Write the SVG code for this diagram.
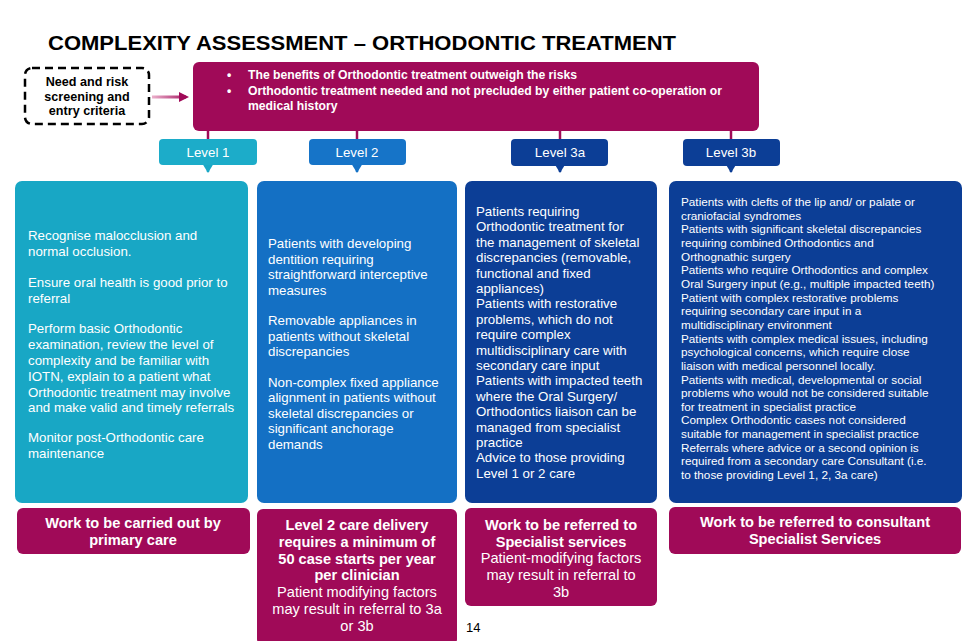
<svg xmlns="http://www.w3.org/2000/svg" width="965" height="641" viewBox="0 0 965 641">
<defs>
<style>
text{font-family:"Liberation Sans",Arial,sans-serif;}
.t{font-size:21px;font-weight:bold;fill:#000;}
.w{fill:#fff;}
.b{font-weight:bold;}
.c{text-anchor:middle;}
.f13{font-size:13.3px;}
.f14{font-size:14.6px;}
.f12{font-size:12.2px;}
.f11{font-size:11.75px;}
.mag{fill:#A00A58;}
</style>
<linearGradient id="ag" gradientUnits="userSpaceOnUse" x1="152" y1="0" x2="190" y2="0">
<stop offset="0" stop-color="#EBB0CB"/>
<stop offset="1" stop-color="#A00A58"/>
</linearGradient>
<marker id="mh" markerWidth="10" markerHeight="10" refX="7" refY="5" orient="auto" markerUnits="userSpaceOnUse">
<path d="M0,0 L10,5 L0,10 z" fill="#A00A58"/>
</marker>
<marker id="a1" markerWidth="12" markerHeight="10" refX="6" refY="9" orient="0" markerUnits="userSpaceOnUse">
<path d="M0,0 L12,0 L6,10 z" fill="#1AA8C6"/>
</marker>
<marker id="a2" markerWidth="12" markerHeight="10" refX="6" refY="9" orient="0" markerUnits="userSpaceOnUse">
<path d="M0,0 L12,0 L6,10 z" fill="#1572C6"/>
</marker>
<marker id="a3" markerWidth="12" markerHeight="10" refX="6" refY="9" orient="0" markerUnits="userSpaceOnUse">
<path d="M0,0 L12,0 L6,10 z" fill="#0C3E96"/>
</marker>
</defs>
<rect width="965" height="641" fill="#fff"/>
<text class="t" x="48" y="50" textLength="628" lengthAdjust="spacingAndGlyphs">COMPLEXITY ASSESSMENT – ORTHODONTIC TREATMENT</text>

<g id="entry">
<rect x="25" y="68" width="124" height="56" rx="7" fill="#fff" stroke="#000" stroke-width="2.5" stroke-dasharray="8,5"/>
<text class="b c" font-size="12.6" x="87" y="86">Need and risk</text>
<text class="b c" font-size="12.6" x="87" y="101">screening and</text>
<text class="b c" font-size="12.6" x="87" y="115">entry criteria</text>
</g>

<g id="criteria">
<rect x="193" y="62" width="566" height="69" rx="6" class="mag"/>
<text class="w b f12" x="227" y="79">•</text>
<text class="w b f12" x="248" y="79">The benefits of Orthodontic treatment outweigh the risks</text>
<text class="w b f12" x="227" y="95">•</text>
<text class="w b f12" x="248" y="95">Orthodontic treatment needed and not precluded by either patient co-operation or</text>
<text class="w b f12" x="248" y="110">medical history</text>
</g>

<g id="connectors">
<line x1="152" y1="97" x2="186" y2="97" stroke="url(#ag)" stroke-width="3" marker-end="url(#mh)"/>
<line x1="208" y1="131" x2="208" y2="139" stroke="#A00A58" stroke-width="2.5"/>
<line x1="357" y1="131" x2="357" y2="139" stroke="#A00A58" stroke-width="2.5"/>
<line x1="560" y1="131" x2="560" y2="139" stroke="#A00A58" stroke-width="2.5"/>
<line x1="731" y1="131" x2="731" y2="139" stroke="#A00A58" stroke-width="2.5"/>
<line x1="208" y1="165" x2="208" y2="172" stroke="#1AA8C6" stroke-width="2.5" marker-end="url(#a1)"/>
<line x1="357" y1="165" x2="357" y2="172" stroke="#1572C6" stroke-width="2.5" marker-end="url(#a2)"/>
<line x1="560" y1="166" x2="560" y2="172" stroke="#0C3E96" stroke-width="2.5" marker-end="url(#a3)"/>
<line x1="731" y1="166" x2="731" y2="172" stroke="#0C3E96" stroke-width="2.5" marker-end="url(#a3)"/>
</g>

<g id="level1">
<rect x="159" y="139" width="98" height="26" rx="4" fill="#1CACC9"/>
<text class="w c f13" x="208" y="157">Level 1</text>
</g>
<g id="level2">
<rect x="309" y="139" width="97" height="26" rx="4" fill="#1674C8"/>
<text class="w c f13" x="357" y="157">Level 2</text>
</g>
<g id="level3a">
<rect x="511" y="139" width="97" height="27" rx="4" fill="#0C3E96"/>
<text class="w c f13" x="560" y="157">Level 3a</text>
</g>
<g id="level3b">
<rect x="683" y="139" width="97" height="27" rx="4" fill="#0C3E96"/>
<text class="w c f13" x="731" y="157">Level 3b</text>
</g>

<g id="content1">
<rect x="15" y="181" width="233" height="322" rx="7" fill="#18A7C5"/>
<g class="w f13">
<text x="28" y="240">Recognise malocclusion and</text>
<text x="28" y="256">normal occlusion.</text>
<text x="28" y="287">Ensure oral health is good prior to</text>
<text x="28" y="303">referral</text>
<text x="28" y="333">Perform basic Orthodontic</text>
<text x="28" y="349">examination, review the level of</text>
<text x="28" y="365">complexity and be familiar with</text>
<text x="28" y="381">IOTN, explain to a patient what</text>
<text x="28" y="397">Orthodontic treatment may involve</text>
<text x="28" y="412">and make valid and timely referrals</text>
<text x="28" y="442">Monitor post-Orthodontic care</text>
<text x="28" y="458">maintenance</text>
</g>
</g>

<g id="content2">
<rect x="257" y="181" width="200" height="322" rx="7" fill="#1470C4"/>
<g class="w f13">
<text x="268" y="248">Patients with developing</text>
<text x="268" y="264">dentition requiring</text>
<text x="268" y="279">straightforward interceptive</text>
<text x="268" y="295">measures</text>
<text x="268" y="325">Removable appliances in</text>
<text x="268" y="341">patients without skeletal</text>
<text x="268" y="356">discrepancies</text>
<text x="268" y="387">Non-complex fixed appliance</text>
<text x="268" y="402">alignment in patients without</text>
<text x="268" y="418">skeletal discrepancies or</text>
<text x="268" y="433">significant anchorage</text>
<text x="268" y="449">demands</text>
</g>
</g>

<g id="content3a">
<rect x="465" y="181" width="192" height="322" rx="7" fill="#0C3E96"/>
<g class="w f13">
<text x="476" y="216">Patients requiring</text>
<text x="476" y="231.4">Orthodontic treatment for</text>
<text x="476" y="246.8">the management of skeletal</text>
<text x="476" y="262.2">discrepancies (removable,</text>
<text x="476" y="277.6">functional and fixed</text>
<text x="476" y="293">appliances)</text>
<text x="476" y="308.4">Patients with restorative</text>
<text x="476" y="323.8">problems, which do not</text>
<text x="476" y="339.2">require complex</text>
<text x="476" y="354.6">multidisciplinary care with</text>
<text x="476" y="370">secondary care input</text>
<text x="476" y="385.4">Patients with impacted teeth</text>
<text x="476" y="400.8">where the Oral Surgery/</text>
<text x="476" y="416.2">Orthodontics liaison can be</text>
<text x="476" y="431.6">managed from specialist</text>
<text x="476" y="447">practice</text>
<text x="476" y="462.4">Advice to those providing</text>
<text x="476" y="477.8">Level 1 or 2 care</text>
</g>
</g>

<g id="content3b">
<rect x="669" y="181" width="293" height="322" rx="7" fill="#0C3E96"/>
<g class="w f11">
<text x="681" y="206">Patients with clefts of the lip and/ or palate or</text>
<text x="681" y="219.7">craniofacial syndromes</text>
<text x="681" y="233.3">Patients with significant skeletal discrepancies</text>
<text x="681" y="247">requiring combined Orthodontics and</text>
<text x="681" y="260.6">Orthognathic surgery</text>
<text x="681" y="274.3">Patients who require Orthodontics and complex</text>
<text x="681" y="287.9">Oral Surgery input (e.g., multiple impacted teeth)</text>
<text x="681" y="301.6">Patient with complex restorative problems</text>
<text x="681" y="315.2">requiring secondary care input in a</text>
<text x="681" y="328.9">multidisciplinary environment</text>
<text x="681" y="342.5">Patients with complex medical issues, including</text>
<text x="681" y="356.2">psychological concerns, which require close</text>
<text x="681" y="369.8">liaison with medical personnel locally.</text>
<text x="681" y="383.5">Patients with medical, developmental or social</text>
<text x="681" y="397.1">problems who would not be considered suitable</text>
<text x="681" y="410.8">for treatment in specialist practice</text>
<text x="681" y="424.4">Complex Orthodontic cases not considered</text>
<text x="681" y="438.1">suitable for management in specialist practice</text>
<text x="681" y="451.7">Referrals where advice or a second opinion is</text>
<text x="681" y="465.4">required from a secondary care Consultant (i.e.</text>
<text x="681" y="479">to those providing Level 1, 2, 3a care)</text>
</g>
</g>

<g id="outcome1">
<rect x="17" y="508" width="233" height="46" rx="6" class="mag"/>
<text class="w b c f14" x="133" y="528">Work to be carried out by</text>
<text class="w b c f14" x="133" y="545">primary care</text>
</g>

<g id="outcome2">
<rect x="257" y="509" width="200" height="136" rx="6" class="mag"/>
<text class="w b c f14" x="357" y="530">Level 2 care delivery</text>
<text class="w b c f14" x="357" y="547">requires a minimum of</text>
<text class="w b c f14" x="357" y="564">50 case starts per year</text>
<text class="w b c f14" x="357" y="580">per clinician</text>
<text class="w c f14" x="357" y="597">Patient modifying factors</text>
<text class="w c f14" x="357" y="614">may result in referral to 3a</text>
<text class="w c f14" x="357" y="631">or 3b</text>
</g>

<g id="outcome3a">
<rect x="465" y="508" width="192" height="98" rx="6" class="mag"/>
<text class="w b c f14" x="561" y="530">Work to be referred to</text>
<text class="w b c f14" x="561" y="547">Specialist services</text>
<text class="w c f14" x="561" y="563">Patient-modifying factors</text>
<text class="w c f14" x="561" y="580">may result in referral to</text>
<text class="w c f14" x="561" y="597">3b</text>
</g>

<g id="outcome3b">
<rect x="669" y="507" width="292" height="47" rx="6" class="mag"/>
<text class="w b c f14" x="815" y="527">Work to be referred to consultant</text>
<text class="w b c f14" x="815" y="544">Specialist Services</text>
</g>

<text x="466" y="632" font-size="13" fill="#000">14</text>
</svg>
